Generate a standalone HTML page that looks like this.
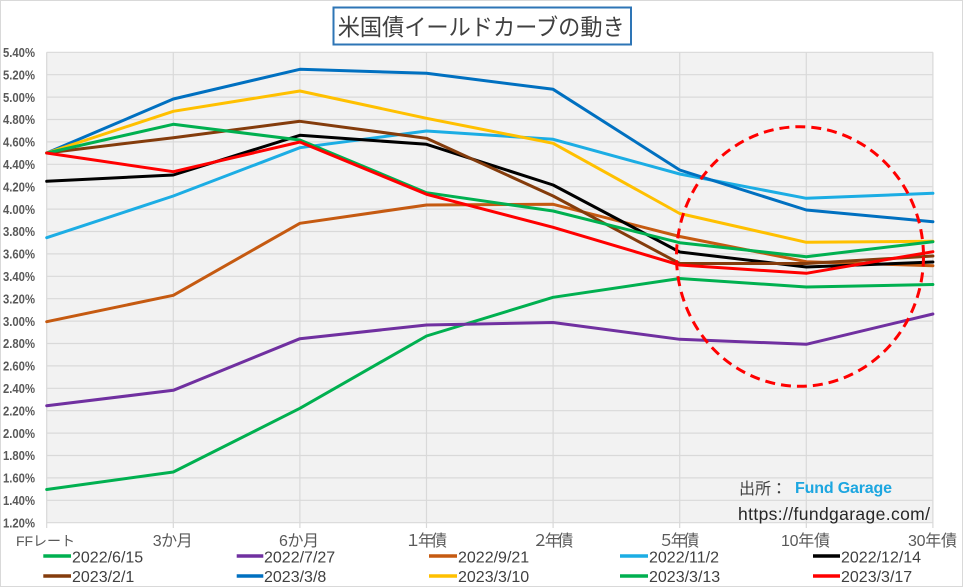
<!DOCTYPE html>
<html><head><meta charset="utf-8"><style>
html,body{margin:0;padding:0;background:#fff;}
svg{display:block;}
</style></head><body>
<svg width="965" height="587" viewBox="0 0 965 587" xmlns="http://www.w3.org/2000/svg">
<rect x="0" y="0" width="965" height="587" fill="#ffffff"/>
<rect x="0.5" y="0.5" width="962" height="586" fill="#ffffff" stroke="#d9d9d9" stroke-width="1"/>
<!-- plot area -->
<rect x="46.7" y="52.3" width="886.2" height="470.3" fill="#f2f2f2"/>
<g stroke="#d9d9d9" stroke-width="1.2">
<line x1="46.7" y1="52.3" x2="932.9" y2="52.3"/>
<line x1="46.7" y1="74.7" x2="932.9" y2="74.7"/>
<line x1="46.7" y1="97.1" x2="932.9" y2="97.1"/>
<line x1="46.7" y1="119.5" x2="932.9" y2="119.5"/>
<line x1="46.7" y1="141.9" x2="932.9" y2="141.9"/>
<line x1="46.7" y1="164.3" x2="932.9" y2="164.3"/>
<line x1="46.7" y1="186.7" x2="932.9" y2="186.7"/>
<line x1="46.7" y1="209.1" x2="932.9" y2="209.1"/>
<line x1="46.7" y1="231.5" x2="932.9" y2="231.5"/>
<line x1="46.7" y1="253.9" x2="932.9" y2="253.9"/>
<line x1="46.7" y1="276.3" x2="932.9" y2="276.3"/>
<line x1="46.7" y1="298.7" x2="932.9" y2="298.7"/>
<line x1="46.7" y1="321.1" x2="932.9" y2="321.1"/>
<line x1="46.7" y1="343.5" x2="932.9" y2="343.5"/>
<line x1="46.7" y1="365.9" x2="932.9" y2="365.9"/>
<line x1="46.7" y1="388.3" x2="932.9" y2="388.3"/>
<line x1="46.7" y1="410.7" x2="932.9" y2="410.7"/>
<line x1="46.7" y1="433.1" x2="932.9" y2="433.1"/>
<line x1="46.7" y1="455.5" x2="932.9" y2="455.5"/>
<line x1="46.7" y1="477.9" x2="932.9" y2="477.9"/>
<line x1="46.7" y1="500.3" x2="932.9" y2="500.3"/>
<line x1="46.7" y1="522.7" x2="932.9" y2="522.7"/>
<line x1="46.7" y1="52.3" x2="46.7" y2="528"/>
<line x1="173.3" y1="52.3" x2="173.3" y2="528"/>
<line x1="299.9" y1="52.3" x2="299.9" y2="528"/>
<line x1="426.5" y1="52.3" x2="426.5" y2="528"/>
<line x1="553.1" y1="52.3" x2="553.1" y2="528"/>
<line x1="679.7" y1="52.3" x2="679.7" y2="528"/>
<line x1="806.3" y1="52.3" x2="806.3" y2="528"/>
<line x1="932.9" y1="52.3" x2="932.9" y2="528"/>
</g>
<!-- y labels -->
<g font-family="Liberation Sans, sans-serif" font-size="13" fill="#595959" font-weight="bold">
<text x="3" y="57" textLength="32" lengthAdjust="spacingAndGlyphs">5.40%</text>
<text x="3" y="79.4" textLength="32" lengthAdjust="spacingAndGlyphs">5.20%</text>
<text x="3" y="101.8" textLength="32" lengthAdjust="spacingAndGlyphs">5.00%</text>
<text x="3" y="124.2" textLength="32" lengthAdjust="spacingAndGlyphs">4.80%</text>
<text x="3" y="146.6" textLength="32" lengthAdjust="spacingAndGlyphs">4.60%</text>
<text x="3" y="169" textLength="32" lengthAdjust="spacingAndGlyphs">4.40%</text>
<text x="3" y="191.4" textLength="32" lengthAdjust="spacingAndGlyphs">4.20%</text>
<text x="3" y="213.8" textLength="32" lengthAdjust="spacingAndGlyphs">4.00%</text>
<text x="3" y="236.2" textLength="32" lengthAdjust="spacingAndGlyphs">3.80%</text>
<text x="3" y="258.6" textLength="32" lengthAdjust="spacingAndGlyphs">3.60%</text>
<text x="3" y="281" textLength="32" lengthAdjust="spacingAndGlyphs">3.40%</text>
<text x="3" y="303.4" textLength="32" lengthAdjust="spacingAndGlyphs">3.20%</text>
<text x="3" y="325.8" textLength="32" lengthAdjust="spacingAndGlyphs">3.00%</text>
<text x="3" y="348.2" textLength="32" lengthAdjust="spacingAndGlyphs">2.80%</text>
<text x="3" y="370.6" textLength="32" lengthAdjust="spacingAndGlyphs">2.60%</text>
<text x="3" y="393" textLength="32" lengthAdjust="spacingAndGlyphs">2.40%</text>
<text x="3" y="415.4" textLength="32" lengthAdjust="spacingAndGlyphs">2.20%</text>
<text x="3" y="437.8" textLength="32" lengthAdjust="spacingAndGlyphs">2.00%</text>
<text x="3" y="460.2" textLength="32" lengthAdjust="spacingAndGlyphs">1.80%</text>
<text x="3" y="482.6" textLength="32" lengthAdjust="spacingAndGlyphs">1.60%</text>
<text x="3" y="505" textLength="32" lengthAdjust="spacingAndGlyphs">1.40%</text>
<text x="3" y="527.4" textLength="32" lengthAdjust="spacingAndGlyphs">1.20%</text>
</g>
<!-- x labels -->
<g font-family="Liberation Sans, 'Noto Sans CJK JP', sans-serif" font-size="16" fill="#595959" text-anchor="middle">
<text x="45.5" y="546" font-size="14">FFレート</text>
<text x="172.7" y="546" textLength="40">3か月</text>
<text x="299" y="546" textLength="40">6か月</text>
<text x="426" y="546" textLength="42">１年債</text>
<text x="552.8" y="546" textLength="41">２年債</text>
<text x="678.7" y="546" textLength="41">５年債</text>
<text x="805.5" y="546" textLength="49">10年債</text>
<text x="932.5" y="546" textLength="49">30年債</text>
</g>
<!-- watermark -->
<text x="739" y="494" font-family="Liberation Sans, 'Noto Sans CJK JP', sans-serif" font-size="16" fill="#404040">出所：</text>
<text x="795" y="493" font-family="Liberation Sans, sans-serif" font-size="16" font-weight="bold" fill="#1CA6E0" textLength="97">Fund Garage</text>
<text x="738" y="520" font-family="Liberation Sans, sans-serif" font-size="17.5" fill="#262626" textLength="192">https://fundgarage.com/</text>
<!-- series -->
<g fill="none" stroke-width="3" stroke-linejoin="round" stroke-linecap="round">
<polyline stroke="#00B050" points="46.7,489.5 173.3,472 299.9,408.3 426.5,336 553.1,297.3 679.7,278.5 806.3,287 932.9,284.5"/>
<polyline stroke="#7030A0" points="46.7,405.7 173.3,390.3 299.9,338.7 426.5,325 553.1,322.5 679.7,339.3 806.3,344.3 932.9,314"/>
<polyline stroke="#C55A11" points="46.7,321.7 173.3,295.3 299.9,223.3 426.5,205 553.1,204.3 679.7,236.5 806.3,261.7 932.9,265.7"/>
<polyline stroke="#1CADE4" points="46.7,237.7 173.3,196 299.9,147.7 426.5,131 553.1,139.3 679.7,174 806.3,198.3 932.9,193.3"/>
<polyline stroke="#000000" points="46.7,181.3 173.3,175 299.9,135.3 426.5,144.3 553.1,185 679.7,252 806.3,267 932.9,262"/>
<polyline stroke="#843C0C" points="46.7,153 173.3,137.7 299.9,121.3 426.5,138.3 553.1,196 679.7,263.5 806.3,263.5 932.9,256"/>
<polyline stroke="#0070C0" points="46.7,153 173.3,99 299.9,69.3 426.5,73.3 553.1,89.3 679.7,170 806.3,210 932.9,221.7"/>
<polyline stroke="#FFC000" points="46.7,153 173.3,111.3 299.9,91 426.5,118.3 553.1,143.3 679.7,213.5 806.3,242.3 932.9,241.3"/>
<polyline stroke="#00B050" points="46.7,153 173.3,124.3 299.9,140 426.5,192.7 553.1,211 679.7,242.7 806.3,256.7 932.9,241.7"/>
<polyline stroke="#FF0000" points="46.7,153 173.3,171.7 299.9,142 426.5,194.3 553.1,227.3 679.7,265 806.3,273.3 932.9,251.7"/>
</g>
<!-- dashed ellipse -->
<ellipse cx="800" cy="256.5" rx="123.5" ry="129.8" fill="none" stroke="#FF0000" stroke-width="3" stroke-dasharray="10,6"/>
<!-- title -->
<rect x="333.5" y="7.5" width="297.5" height="37" fill="#ffffff" stroke="#2E75B6" stroke-width="2"/>
<text x="337.7" y="35" font-family="Liberation Sans, 'Noto Sans CJK JP', sans-serif" font-size="23" fill="#404040" textLength="287" lengthAdjust="spacingAndGlyphs">米国債イールドカーブの動き</text>
<!-- legend -->
<g stroke-width="3.5">
<line x1="43.3" y1="556" x2="71" y2="556" stroke="#00B050"/>
<line x1="236.7" y1="556" x2="263.3" y2="556" stroke="#7030A0"/>
<line x1="429" y1="556" x2="457" y2="556" stroke="#C55A11"/>
<line x1="620" y1="556" x2="648" y2="556" stroke="#1CADE4"/>
<line x1="813" y1="556" x2="840" y2="556" stroke="#000000"/>
<line x1="43.3" y1="576" x2="71" y2="576" stroke="#843C0C"/>
<line x1="236.7" y1="576" x2="263.3" y2="576" stroke="#0070C0"/>
<line x1="429" y1="576" x2="457" y2="576" stroke="#FFC000"/>
<line x1="620" y1="576" x2="648" y2="576" stroke="#00B050"/>
<line x1="813" y1="576" x2="840" y2="576" stroke="#FF0000"/>
</g>
<g font-family="Liberation Sans, sans-serif" font-size="16" fill="#404040">
<text x="72" y="562.5">2022/6/15</text>
<text x="264" y="562.5">2022/7/27</text>
<text x="458" y="562.5">2022/9/21</text>
<text x="649" y="562.5">2022/11/2</text>
<text x="841" y="562.5">2022/12/14</text>
<text x="72" y="582">2023/2/1</text>
<text x="264" y="582">2023/3/8</text>
<text x="458" y="582">2023/3/10</text>
<text x="649" y="582">2023/3/13</text>
<text x="841" y="582">2023/3/17</text>
</g>
</svg>
</body></html>
